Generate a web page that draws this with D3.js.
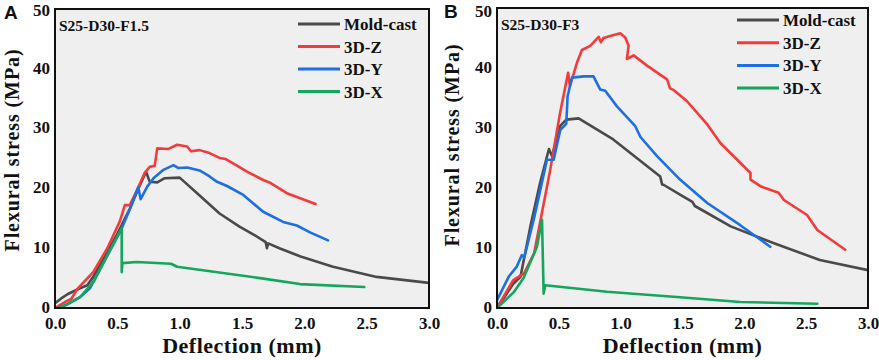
<!DOCTYPE html>
<html><head><meta charset="utf-8">
<script src="https://cdn.jsdelivr.net/npm/d3@7"></script>
<style>
html,body{margin:0;padding:0;background:#fff;}
svg{display:block;}
</style></head>
<body>
<svg id="chart" width="879" height="360"></svg>
<script>
// ---- data ----
const xTicks = [0.0, 0.5, 1.0, 1.5, 2.0, 2.5, 3.0];
const yTicks = [0, 10, 20, 30, 40, 50];
const seriesNames = ["Mold-cast", "3D-Z", "3D-Y", "3D-X"];
const seriesColors = ["#4a4a4a", "#f33b3b", "#1e6fe3", "#14a65c"];
const panelLetters = ["A", "B"];
const panelTitles = ["S25-D30-F1.5", "S25-D30-F3"];

const aMoldCast = [[0,0.8],[0.05,1.6],[0.1,2.3],[0.2,3.3],[0.26,3.8],[0.3,5],[0.4,8.6],[0.5,12.4],[0.6,16.6],[0.68,20.5],[0.73,22.8],[0.76,21.1],[0.82,21.0],[0.88,21.7],[1.0,21.8],[1.14,19.2],[1.32,15.8],[1.48,13.6],[1.6,12.2],[1.69,11.0],[1.7,10.0],[1.71,10.8],[1.8,10.0],[1.97,8.6],[2.23,6.9],[2.58,5.2],[3.0,4.2]];
const a3DZ = [[0,0],[0.08,1.0],[0.13,1.5],[0.18,3.2],[0.31,6.1],[0.42,10],[0.52,14.5],[0.56,17.2],[0.6,17.2],[0.66,19.8],[0.72,22.6],[0.76,23.6],[0.8,23.8],[0.82,26.7],[0.91,26.6],[0.98,27.3],[1.06,27.0],[1.09,26.2],[1.16,26.4],[1.24,25.9],[1.32,25.1],[1.37,24.9],[1.46,23.8],[1.54,22.8],[1.67,21.4],[1.72,21.0],[1.86,19.2],[2.09,17.4]];
const a3DY = [[0.03,0],[0.1,0.6],[0.2,1.8],[0.28,3.3],[0.4,8],[0.535,13.3],[0.6,16.5],[0.668,20.2],[0.687,18.2],[0.74,20.3],[0.79,21.7],[0.87,23.1],[0.95,23.9],[0.99,23.4],[1.06,23.5],[1.16,23.0],[1.24,22.0],[1.30,21.1],[1.38,20.4],[1.51,18.9],[1.67,16.1],[1.83,14.4],[1.94,13.8],[2.05,12.6],[2.19,11.3]];
const a3DX = [[0.03,0],[0.1,0.7],[0.2,1.8],[0.31,4.4],[0.42,8.8],[0.535,13.3],[0.535,6.0],[0.54,7.5],[0.655,7.7],[0.93,7.4],[0.98,6.9],[1.645,5.0],[1.965,4.0],[2.48,3.5]];

const bMoldCast = [[0,0.2],[0.05,1.5],[0.13,4.0],[0.19,5.2],[0.27,13.6],[0.35,21],[0.42,26.5],[0.445,25.3],[0.51,30.3],[0.56,31.4],[0.66,31.6],[0.94,28.1],[1.32,21.9],[1.335,20.6],[1.35,20.5],[1.48,18.9],[1.58,17.7],[1.6,17.0],[1.89,13.6],[2.24,10.8],[2.61,8.0],[3.0,6.3]];
const b3DZ = [[0,0],[0.13,4.6],[0.22,5.8],[0.3,9.1],[0.43,23.0],[0.51,32.5],[0.575,39.2],[0.59,37.0],[0.647,40.9],[0.687,43.0],[0.754,43.7],[0.822,45.2],[0.84,44.3],[0.86,45.0],[0.93,45.4],[0.997,45.8],[1.037,45.1],[1.064,43.7],[1.05,41.5],[1.105,42.1],[1.213,40.4],[1.375,38.1],[1.40,36.6],[1.43,36.3],[1.535,34.5],[1.70,30.6],[1.806,27.5],[2.05,22.5],[2.05,21.4],[2.13,20.3],[2.277,19.2],[2.32,18.0],[2.507,15.5],[2.59,13.0],[2.816,9.7]];
const b3DY = [[0,1.3],[0.094,5.2],[0.16,6.9],[0.2,8.8],[0.22,8.4],[0.3,15],[0.404,24.7],[0.458,24.7],[0.512,29.7],[0.56,30.7],[0.571,35.3],[0.606,38.4],[0.7,38.6],[0.78,38.6],[0.835,36.4],[0.875,36.2],[0.97,33.6],[1.118,30.3],[1.16,28.5],[1.294,25.3],[1.48,21.4],[1.70,17.5],[1.967,13.8],[2.21,10.2]];
const b3DX = [[0,0],[0.134,2.6],[0.215,5.0],[0.323,10.2],[0.364,14.7],[0.377,2.4],[0.39,3.8],[0.89,2.7],[1.48,1.8],[1.967,1.0],[2.59,0.7]];

const panelSeries = [
  [aMoldCast, a3DZ, a3DY, a3DX],
  [bMoldCast, b3DZ, b3DY, b3DX]
];

// ---- layout ----
const panels = [
  {left: 55, right: 429, top: 9, bottom: 308, origin: 0, legendY: 24, legendStep: 22.5, titleY: 31},
  {left: 497, right: 868, top: 8, bottom: 308, origin: 440, legendY: 20, legendStep: 22.7, titleY: 30}
];
const serif = "'Liberation Serif', 'DejaVu Serif', serif";
const svg = d3.select("#chart");

panels.forEach((p, i) => {
  const x = d3.scaleLinear().domain([0, 3]).range([p.left, p.right]);
  const y = d3.scaleLinear().domain([0, 50]).range([p.bottom, p.top]);
  const g = svg.append("g");

  g.append("rect").attr("x", p.left).attr("y", p.top)
    .attr("width", p.right - p.left).attr("height", p.bottom - p.top)
    .attr("fill", "#efefef");

  // axes
  const xAxis = d3.axisBottom(x).tickValues(xTicks).tickFormat(d3.format(".1f")).tickSize(0).tickPadding(9);
  const yAxis = d3.axisLeft(y).tickValues(yTicks).tickFormat(d3.format("d")).tickSize(0).tickPadding(5);
  const gx = g.append("g").attr("transform", `translate(0,${p.bottom})`).call(xAxis);
  const gy = g.append("g").attr("transform", `translate(${p.left},0)`).call(yAxis);
  [gx, gy].forEach(ax => {
    ax.select(".domain").remove();
    ax.selectAll("text").attr("font-family", serif).attr("font-weight", "bold")
      .attr("font-size", 17).attr("fill", "#111");
  });
  gy.selectAll("text").attr("dy", d => d === 50 ? (p.top < 9 ? "0.48em" : "0.4em") : "0.25em");

  // lines
  const line = d3.line().x(d => x(d[0])).y(d => y(d[1]));
  const clipId = "clip" + i;
  g.append("clipPath").attr("id", clipId).append("rect")
    .attr("x", p.left).attr("y", p.top).attr("width", p.right - p.left).attr("height", p.bottom - p.top);
  const lg = g.append("g").attr("clip-path", `url(#${clipId})`);
  panelSeries[i].forEach((s, k) => {
    lg.append("path").datum(s).attr("d", line)
      .attr("fill", "none").attr("stroke", seriesColors[k])
      .attr("stroke-width", 2.6).attr("stroke-linejoin", "round").attr("stroke-linecap", "round");
  });

  // frame
  g.append("rect").attr("x", p.left).attr("y", p.top)
    .attr("width", p.right - p.left).attr("height", p.bottom - p.top)
    .attr("fill", "none").attr("stroke", "#111").attr("stroke-width", 2);

  // legend
  seriesNames.forEach((name, k) => {
    const ly = p.legendY + k * p.legendStep;
    g.append("line").attr("x1", p.right - 131).attr("x2", p.right - 89)
      .attr("y1", ly).attr("y2", ly).attr("stroke", seriesColors[k]).attr("stroke-width", 3);
    g.append("text").attr("x", p.right - 85).attr("y", ly + 6)
      .attr("font-family", serif).attr("font-weight", "bold").attr("font-size", 17)
      .attr("fill", "#111").text(name);
  });

  // inner title
  g.append("text").attr("x", p.left + 4).attr("y", p.titleY)
    .attr("font-family", serif).attr("font-weight", "bold").attr("font-size", 15.5)
    .attr("fill", "#111").text(panelTitles[i]);

  // panel letter
  g.append("text").attr("x", p.origin + 4).attr("y", p.origin ? 18 : 19)
    .attr("font-family", "'Liberation Sans', Arial, sans-serif").attr("font-weight", "bold")
    .attr("font-size", 19).attr("fill", "#111").text(panelLetters[i]);

  // axis titles
  g.append("text").attr("x", (p.left + p.right) / 2).attr("y", 353)
    .attr("text-anchor", "middle").attr("font-family", serif).attr("font-weight", "bold")
    .attr("font-size", 22).attr("letter-spacing", 0.5).attr("fill", "#111").text("Deflection (mm)");
  g.append("text")
    .attr("transform", `translate(${p.origin + 18.5},${p.origin ? 145 : 150}) rotate(-90)`)
    .attr("text-anchor", "middle").attr("font-family", serif).attr("font-weight", "bold")
    .attr("font-size", 20).attr("letter-spacing", 0.9).attr("fill", "#111").text("Flexural stress (MPa)");
});
</script>
</body></html>
